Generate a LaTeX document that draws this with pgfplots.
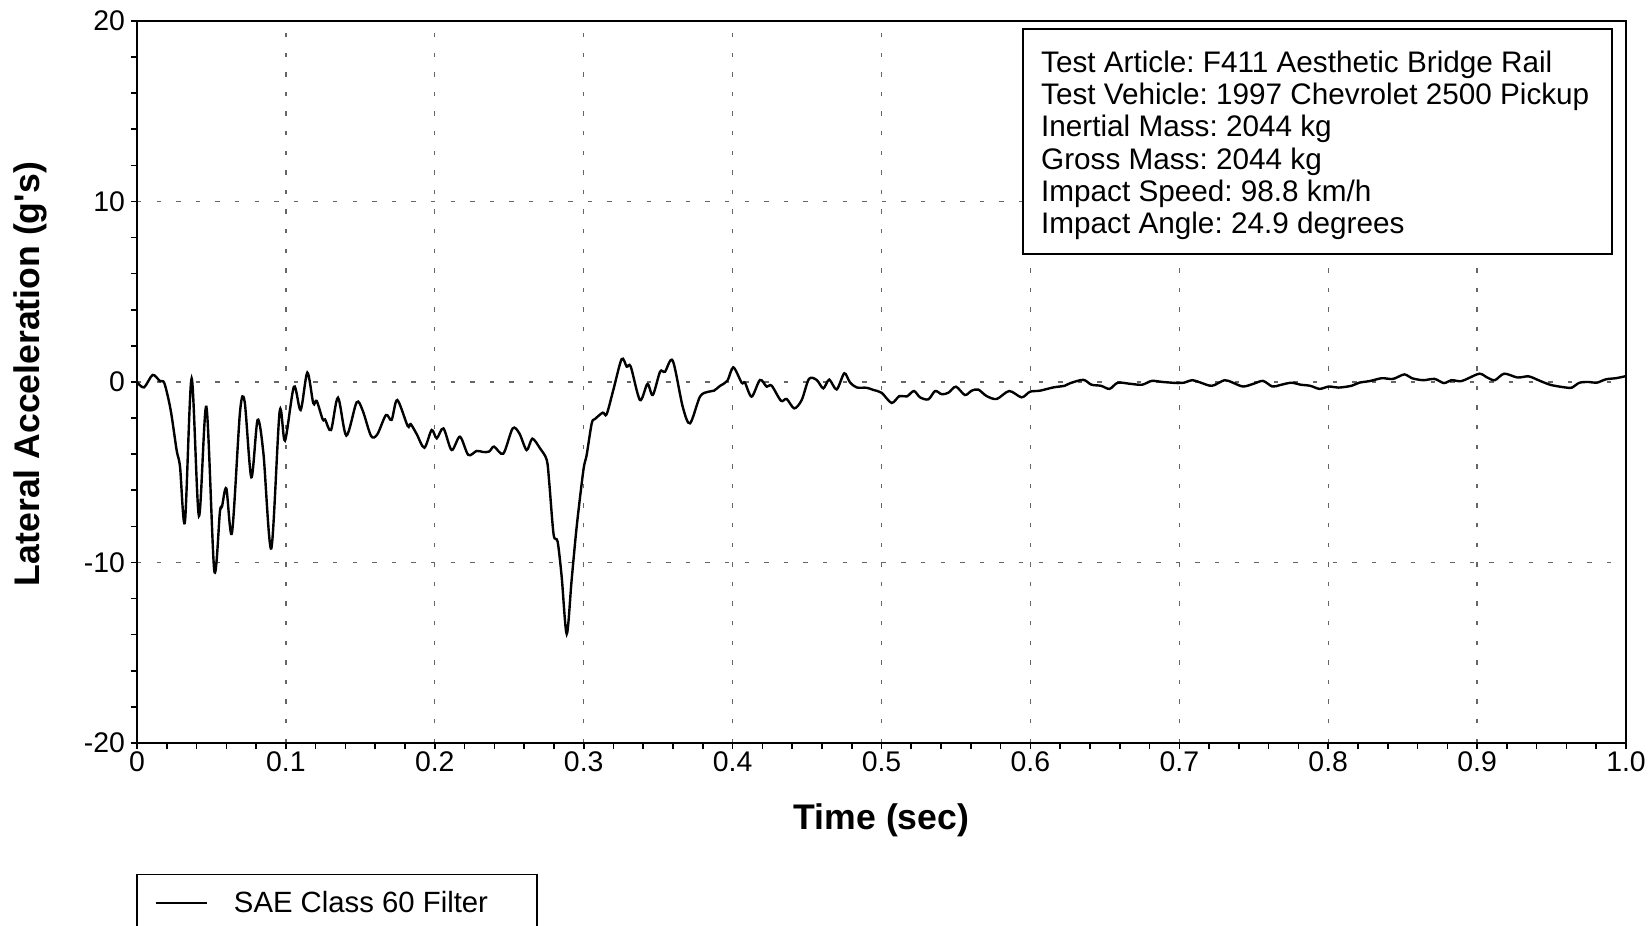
\documentclass[border=0pt]{standalone}
\usepackage{fontspec}
\setmainfont{Liberation Sans}
\usepackage{pgfplots}
\pgfplotsset{compat=1.18}
\frenchspacing
\pgfplotstableread{
t g
0 0
0.0047 -0.3
0.0105 0.39
0.0154 0.05
0.0184 -0.07
0.0226 -1.55
0.0266 -3.77
0.0289 -4.7
0.0322 -7.74
0.0367 0.2
0.0416 -7.42
0.0466 -1.37
0.0519 -10.45
0.0557 -7.18
0.0571 -6.9
0.060 -5.9
0.0638 -8.35
0.0692 -1.64
0.0723 -1.09
0.0768 -5.28
0.081 -2.1
0.0849 -3.95
0.0902 -9.22
0.0958 -1.64
0.0994 -3.25
0.1054 -0.26
0.1099 -1.55
0.1144 0.52
0.1184 -1.18
0.1207 -1.05
0.1247 -2.07
0.1263 -2.07
0.1303 -2.66
0.135 -0.87
0.1406 -2.97
0.1475 -1.13
0.1516 -1.59
0.1572 -2.99
0.1614 -2.9
0.1672 -1.83
0.171 -2.1
0.1748 -1.0
0.1818 -2.44
0.1838 -2.33
0.1878 -2.88
0.193 -3.64
0.1979 -2.66
0.2013 -3.12
0.2058 -2.57
0.2113 -3.77
0.2169 -3.03
0.2225 -4.04
0.2281 -3.82
0.2326 -3.88
0.2366 -3.85
0.2398 -3.58
0.246 -3.97
0.2523 -2.57
0.2568 -2.85
0.2617 -3.77
0.2655 -3.14
0.2707 -3.68
0.2752 -4.32
0.2769 -5.61
0.2798 -8.45
0.2825 -8.85
0.2852 -10.78
0.2886 -13.96
0.2919 -10.97
0.2953 -8.01
0.2998 -4.88
0.302 -4.04
0.3054 -2.29
0.3076 -2.05
0.3128 -1.7
0.3154 -1.79
0.3199 -0.44
0.3255 1.27
0.3289 0.85
0.3316 0.85
0.3378 -1.0
0.3428 -0.11
0.3464 -0.72
0.3513 0.57
0.3546 0.57
0.3598 1.18
0.3665 -1.37
0.3714 -2.29
0.3781 -0.81
0.3837 -0.54
0.3875 -0.48
0.3915 -0.22
0.3965 0.07
0.4005 0.81
0.4061 -0.04
0.4083 -0.04
0.4128 -0.81
0.4184 0.11
0.4229 -0.26
0.4262 -0.2
0.4325 -1.04
0.4363 -0.94
0.4414 -1.46
0.4464 -1.0
0.4513 0.17
0.4565 0.11
0.4609 -0.35
0.4649 0.13
0.4699 -0.41
0.475 0.48
0.4788 -0.02
0.4833 -0.3
0.49 -0.32
0.4945 -0.44
0.5001 -0.6
0.5068 -1.16
0.512 -0.78
0.517 -0.8
0.5218 -0.5
0.5259 -0.85
0.5315 -0.96
0.536 -0.5
0.5405 -0.68
0.545 -0.59
0.55 -0.26
0.556 -0.72
0.5606 -0.48
0.565 -0.42
0.5706 -0.78
0.5774 -0.94
0.5858 -0.5
0.5941 -0.85
0.5997 -0.54
0.6065 -0.48
0.6154 -0.3
0.623 -0.21
0.6266 -0.07
0.6355 0.12
0.641 -0.15
0.6474 -0.21
0.6532 -0.38
0.6587 -0.04
0.667 -0.1
0.675 -0.15
0.6815 0.06
0.689 0
0.699 -0.06
0.703 -0.04
0.7089 0.1
0.7145 -0.04
0.722 -0.21
0.7304 0.1
0.736 -0.04
0.7428 -0.25
0.7498 -0.1
0.7562 0.06
0.7625 -0.25
0.7676 -0.17
0.7752 -0.04
0.7815 -0.15
0.7879 -0.21
0.7942 -0.38
0.8005 -0.25
0.8069 -0.31
0.8157 -0.21
0.8208 -0.04
0.8284 0.06
0.836 0.21
0.8435 0.17
0.8511 0.42
0.8562 0.21
0.8638 0.1
0.8714 0.17
0.8777 -0.06
0.8827 0.1
0.8891 0.04
0.8942 0.21
0.9017 0.46
0.9068 0.25
0.9119 0.1
0.9182 0.46
0.9271 0.25
0.9347 0.31
0.9423 0.06
0.9498 -0.17
0.96 -0.31
0.9637 -0.31
0.9688 -0.04
0.9752 0
0.9803 -0.04
0.9866 0.15
0.9932 0.21
0.9992 0.31
1.0 0.32
}\datatable
\begin{document}
\begin{tikzpicture}
\begin{axis}[
  name=ax, at={(0,0)}, anchor=south west,
  scale only axis, width=744.5pt, height=361pt,
  xmin=0, xmax=1, ymin=-20, ymax=20,
  xtick={0,0.1,0.2,0.3,0.4,0.5,0.6,0.7,0.8,0.9,1},
  xticklabels={0,0.1,0.2,0.3,0.4,0.5,0.6,0.7,0.8,0.9,1.0},
  ytick={-20,-10,0,10,20},
  yticklabels={-20,-10,0,10,20},
  minor x tick num=4, minor y tick num=4,
  tick align=outside, xtick pos=bottom, ytick pos=left,
  major tick length=3.2pt, minor tick length=3.2pt,
  tick style={black, line width=0.8pt},
  axis line style={line width=1pt},
  grid=major,
  major grid style={black!60, line width=0.65pt, dash pattern=on 2.2pt off 7.6pt},
  tick label style={font=\fontsize{14.2}{16}\selectfont},
  /pgf/number format/assume math mode=true,
  yticklabel style={inner xsep=2.6pt},
  xticklabel style={inner ysep=1pt},
  xlabel={Time (sec)},
  ylabel={Lateral Acceleration (g\textquotesingle s)},
  label style={font=\fontsize{17.8}{20}\selectfont\bfseries},
  xlabel style={at={(axis description cs:0.5,-0.1194)}, anchor=base},
  ylabel style={at={(axis description cs:-0.0653,0.511)}, anchor=base},
]
\addplot[black, line width=1.2pt, smooth, tension=0.5] table[x=t, y=g] {\datatable};
\end{axis}
\draw[line width=0.75pt, fill=white] (443pt,244.5pt) rectangle (737.5pt,357pt);
\foreach \txt [count=\i from 0] in {Test Article: F411 Aesthetic Bridge Rail,Test Vehicle: 1997 Chevrolet 2500 Pickup,Inertial Mass: 2044 kg,Gross Mass: 2044 kg,Impact Speed: 98.8 km/h,Impact Angle: 24.9 degrees}{
  \node[anchor=base west, inner sep=0pt, font=\fontsize{14.85}{16}\selectfont] at (451.9pt,{335.2pt-\i*16.1pt}) {\txt};
}
\draw[line width=0.75pt, fill=white] (0pt,-65.75pt) rectangle (200pt,-100pt);
\draw[line width=1pt] (9.4pt,-80pt) -- (35.1pt,-80pt);
\node[anchor=base west, inner sep=0pt, font=\fontsize{14.65}{16}\selectfont] at (48.3pt,-84.7pt) {SAE Class 60 Filter};
\pgfresetboundingbox
\useasboundingbox (-68.5pt,-91.5pt) rectangle (756.5pt,371.5pt);
\end{tikzpicture}
\end{document}
